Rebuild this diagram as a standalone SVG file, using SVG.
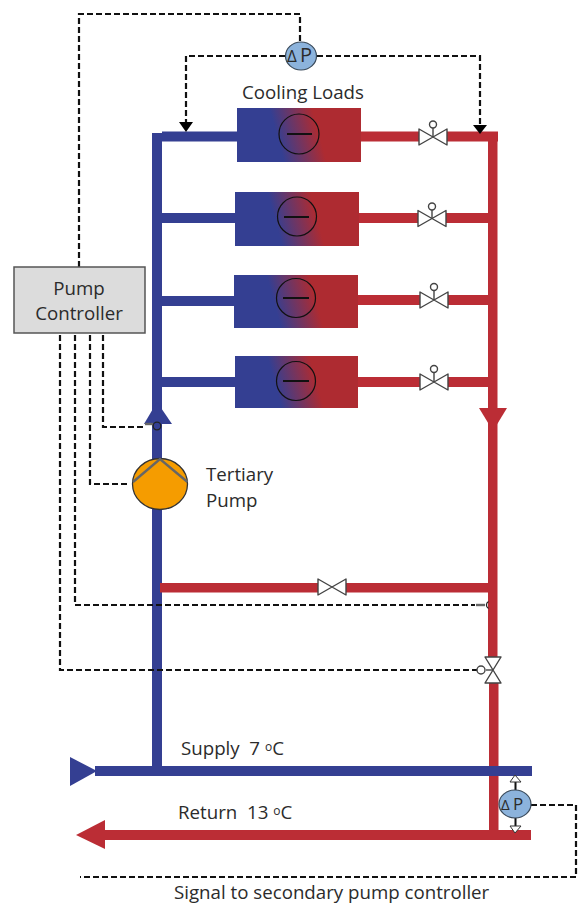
<svg xmlns="http://www.w3.org/2000/svg" width="579" height="904" viewBox="0 0 579 904">
<style>
text{font-family:"Open Sans","Noto Sans","Liberation Sans",sans-serif;font-size:18.700px;fill:#2b2b2b;white-space:pre}
.blue{fill:#343f92}
.red{fill:#bb2d35}
.dash{fill:none;stroke:#111;stroke-width:2.200;stroke-dasharray:6 3}
.valve{fill:#fff;stroke:#444;stroke-width:1.400;stroke-linejoin:round}
.ring{fill:none;stroke:#222;stroke-width:1.300}
.grey{fill:none;stroke:#666;stroke-width:2.400}
.load{fill:url(#lg)}
.fan{fill:none;stroke:#111;stroke-width:1.200}
.dp{fill:#8cb3dc;stroke:#3a4a5a;stroke-width:1.200}
</style>
<defs>
<linearGradient id="lg" x1="0.32" y1="0.5" x2="0.66" y2="0.46">
<stop offset="0" stop-color="#343f92"/><stop offset="1" stop-color="#ae2b31"/>
</linearGradient>
<symbol id="v" overflow="visible"><rect x="-14" y="-8" width="28" height="16" fill="#fff"/><path class="valve" d="M-14-8 14 8V-8L-14 8Z"/></symbol>
</defs>
<g id="pipes">
<rect class="blue" x="152" y="133" width="10" height="637"/>
<rect class="blue" x="162" y="131.500" width="76" height="10"/>
<rect class="blue" x="160" y="213" width="76" height="10"/>
<rect class="blue" x="160" y="296" width="76" height="10"/>
<rect class="blue" x="160" y="377" width="76" height="10"/>
<rect class="red" x="360" y="131.500" width="138" height="10"/>
<rect class="red" x="358" y="213" width="132" height="10"/>
<rect class="red" x="357" y="295" width="133" height="10"/>
<rect class="red" x="357" y="377" width="133" height="10"/>
<rect class="red" x="488" y="133" width="9.500" height="530"/>
<rect class="red" x="489" y="680" width="9.500" height="155"/>
<rect class="red" x="160" y="583" width="329" height="9.500"/>
<rect class="red" x="105" y="830" width="426" height="10"/>
<rect class="blue" x="95" y="766" width="437" height="10"/>
<path class="blue" d="M70 757 97 771 70 786Z"/>
<path class="red" d="M76 835 105 820V849Z"/>
<path class="blue" d="M157 402 144 424H172Z"/>
<path class="red" d="M479 408H507L493 431Z"/>
</g>
<g id="connectors">
<path class="dash" d="M79 267V14H300V42"/>
<path class="dash" d="M285 56H186V124"/>
<path class="dash" d="M317 56H480V124"/>
<path d="M179 122H193L186 132ZM473 125H487L480 134Z" fill="#000"/>
<path class="dash" d="M103 335V427H143"/>
<path class="dash" d="M90 335V484H129"/>
<path class="dash" d="M75 335V605H475"/>
<path class="dash" d="M60 335V670H477"/>
<path class="dash" d="M531 805H576V877H80"/>
<path class="grey" d="M145 424H153"/>
<path class="grey" d="M476 605H485" stroke-width="1.500"/>
</g>
<g id="load1"><rect class="load" x="237" y="108" width="124" height="54"/><circle class="fan" cx="299" cy="134" r="20"/><path d="M287 134H312" stroke="#111" stroke-width="2"/></g>
<g id="load2"><rect class="load" x="235" y="192" width="124" height="54"/><circle class="fan" cx="297" cy="216.500" r="19.500"/><path d="M284 217H309" stroke="#111" stroke-width="2"/></g>
<g id="load3"><rect class="load" x="234" y="275" width="124" height="53"/><circle class="fan" cx="296" cy="298" r="19.500"/><path d="M283 298H309" stroke="#111" stroke-width="2"/></g>
<g id="load4"><rect class="load" x="235" y="356" width="123" height="52"/><circle class="fan" cx="296" cy="381" r="19.500"/><path d="M283 381H309" stroke="#111" stroke-width="2"/></g>
<g id="valve1"><use href="#v" x="433" y="137"/><path class="valve" d="M433 137V128"/><circle class="valve" cx="433" cy="124.500" r="3.500"/></g>
<g id="valve2"><use href="#v" x="432" y="218.500"/><path class="valve" d="M432 218V210"/><circle class="valve" cx="432" cy="206.500" r="3.500"/></g>
<g id="valve3"><use href="#v" x="434" y="300"/><path class="valve" d="M434 300V291"/><circle class="valve" cx="434" cy="287" r="3.500"/></g>
<g id="valve4"><use href="#v" x="434" y="382"/><path class="valve" d="M434 382V373"/><circle class="valve" cx="434" cy="369" r="3.500"/></g>
<g id="valve5"><use href="#v" x="332" y="587"/></g>
<g id="valve6"><path class="valve" d="M485 657H501L485 683H501Z"/><path class="valve" d="M493 670H486"/><circle class="valve" cx="481" cy="670" r="4"/></g>
<g id="sensor1"><circle class="ring" cx="157" cy="426" r="3.800"/></g>
<g id="sensor2"><path d="M485.500 601.500A4 4 0 0 1 485.500 608.500" class="ring" transform="rotate(180 487 605)"/></g>
<g id="controller"><rect x="14" y="267" width="131" height="66" fill="#dcdcdc" stroke="#555" stroke-width="1.500"/>
<text x="79" y="295" text-anchor="middle">Pump</text><text x="79" y="320" text-anchor="middle">Controller</text></g>
<g id="pump"><ellipse cx="160" cy="484" rx="27.500" ry="25.500" fill="#f59c00" stroke="#333" stroke-width="1.300"/><path class="grey" d="M133 482 160 459 187.500 482"/>
<text x="206" y="481">Tertiary</text><text x="206" y="507">Pump</text></g>
<g id="dp1"><ellipse class="dp" cx="301" cy="56" rx="15.500" ry="14"/><text x="287" y="62" style="font-size:20px"><tspan style="font-size:17px">Δ</tspan><tspan x="300">P</tspan></text></g>
<g id="dp2"><path d="M515.500 790V782M515.500 818V826" stroke="#111" stroke-width="2"/><path d="M515 775 521 782H510Z" fill="#fff" stroke="#333"/><path d="M515 833 521 826H510Z" fill="#fff" stroke="#333"/><ellipse class="dp" cx="515" cy="804" rx="16" ry="14"/><text x="501" y="810" style="font-size:17px"><tspan style="font-size:15px">Δ</tspan><tspan x="513">P</tspan></text></g>
<g id="labels">
<text x="242" y="99">Cooling Loads</text>
<text x="181" y="755">Supply  7 <tspan dy="-4" style="font-size:12px">o</tspan><tspan dy="4">C</tspan></text>
<text x="178" y="819">Return  13 <tspan dy="-4" style="font-size:12px">o</tspan><tspan dy="4">C</tspan></text>
<text x="174" y="899">Signal to secondary pump controller</text>
</g>
</svg>
